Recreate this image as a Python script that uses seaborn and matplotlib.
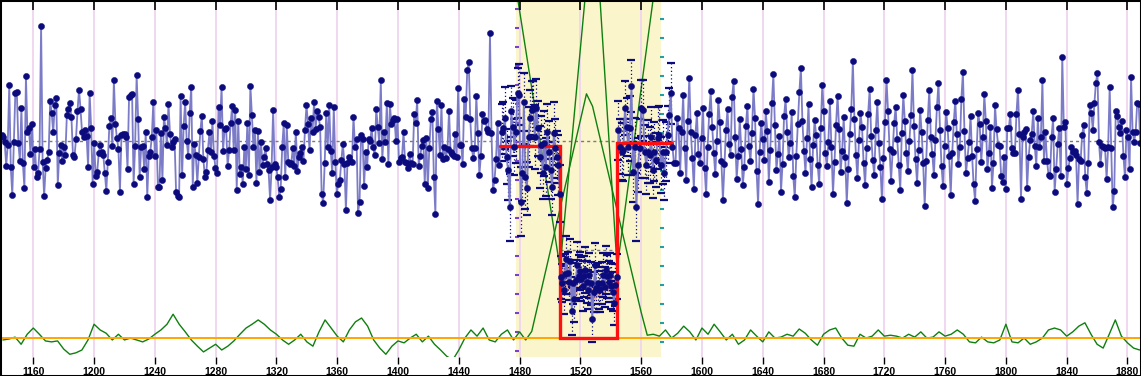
import numpy as np
import pandas as pd
import matplotlib
matplotlib.use("Agg")
import matplotlib.pyplot as plt
import seaborn as sns
from matplotlib.patches import Rectangle

sns.set_theme(style="white")
plt.rcParams['font.family'] = ['Liberation Sans', 'DejaVu Sans']

# ---------------- data ----------------
# out-of-window photometry (relative flux, ppt) before the fitted window
left_vals = [
    1.5, 1.0, -0.1, -5.0, -0.6, 11.9, -5.3, -11.1, -0.1, 10.2,
    10.5, -0.3, -3.9, 7.1, -4.5, -9.7, 13.8, 2.0, 2.9, -2.5,
    3.7, -5.2, -1.5, -7.4, -6.6, -1.5, 24.3, -4.1, -11.3, -5.4,
    -3.8, -2.0, 8.6, 6.0, 2.0, 7.7, 9.2, -9.0, -2.2, -0.7,
    -4.0, -1.0, -2.7, 5.7, 6.9, 8.1, 5.2, -2.7, -3.2, 0.6,
    6.4, 11.0, 6.9, 2.0, 1.1, 2.5, 1.3, -5.2, 10.3, 2.9,
    -8.7, -0.3, -7.1, -6.2, -2.4, -0.6, -2.0, -2.7, -6.4, -10.2,
    -4.1, 3.4, 5.0, -0.8, 13.0, 3.8, 0.8, -1.5, -10.4, 1.5,
    1.7, 1.7, 1.1, -5.7, 9.5, 9.9, 10.1, -8.7, -0.8, 14.0,
    4.8, -7.4, -1.0, -0.8, -5.7, 2.0, -11.5, -2.9, -2.0, 1.0,
    8.4, -2.9, 2.5, -9.4, -9.5, 1.8, -8.0, 5.3, 2.9, -0.6,
    8.0, 1.7, -1.1, -0.1, 0.6, -10.4, -11.3, -11.5, 9.6, -6.9,
    3.4, 8.4, 0.3, -2.9, 6.1,
    11.6, -9.4, -0.4, -2.7, -8.5, -3.1, 2.3, 5.5, -3.6, -7.3,
    -6.2, -1.7, 2.0, -2.0, 4.3, -2.9, -5.4, -6.4, 7.4, 3.6,
    11.5, -1.8, 2.7, 3.0, -5.0, -1.7, 3.9, 7.6, -1.7, 6.7,
    -10.0, 4.5, -6.7, -5.2, -8.7, -1.1, -5.7, 4.0, -7.0, 11.8,
    5.7, -1.0, 2.5, -8.5, 2.3, -6.2, 0.0, -4.8, -3.1, -1.3,
    -4.6, -5.9, -12.2, -5.3, 6.7, -4.6, -5.2, -7.3, -11.5, -9.9,
    -1.0, 3.9, -7.4, 3.5, -4.1, -4.6, -4.3, -1.2, -5.0, 2.2,
    -6.0, -3.2, -2.2, -1.0, -3.9, 2.5, 7.7, 3.8, -1.7, 5.1,
    2.2, 8.4, 2.7, 6.4, 5.2, 3.2, -10.8, -12.7, -4.5, 6.0,
    -1.1, 7.8, -1.8, -6.6, 7.3, -4.1, -10.8, -8.7, -8.0, -3.8,
    -0.4, -4.6, -14.3, -4.5, -3.2, -3.9, -4.1, 5.3, -1.1, 0.7,
    -14.8, -12.5, 1.5, 0.6, -9.2, -2.0, -5.3, 0.6, 0.3, 2.9,
    -1.1, -2.8, 6.9, 3.2, -0.3, 12.9, -3.6, 2.2, 0.1, 8.2,
    -4.6, 7.9, 3.8, 4.6, 5.0, 0.3, 4.8, -4.1, -3.3, -3.1,
    2.0, -4.1, -4.5, -5.5, -2.5, -4.5, -4.6, 5.8, 4.0, 8.8,
    -5.0, -2.9, -0.8, 0.4, -8.7, 0.8, -9.7, -1.2, 4.8, 6.3,
    -7.4, -15.1, 8.7, 2.8, -2.7, 7.8, -3.6, -1.0, -3.3, -1.4,
    6.6, -2.0, -2.5, -2.9, 1.6, -3.1, 11.3, -0.6, -0.6, -4.6,
    9.0, 5.3, 15.1, 16.7, 4.8, -1.3, -3.4, -1.3, 9.7, 1.8,
    -6.9, -2.9, 5.9, 4.3, 4.6, 2.7, 2.2, 22.8, 1.8,
    -10.0, -8.0, -3.6, 4.0, -4.8,
]
left_t = (1139.2, 1466.5)

# fitted window: pre-ingress, in-transit, post-egress (with errors)
pre_vals = [
    2.0, 2.9, 5.0, -3.1, -5.9, -13.7, 6.4, 3.2, -1.0, 2.2,
    10.3, 9.9, -12.5, -6.6, 8.4, -7.3, -9.7, 1.1, 5.0, 6.7,
    7.1, 1.1, 7.1, 2.9, -3.1, -0.6, -6.6, -0.3, -5.2, 2.2,
    -2.0, -5.9, -9.4, 1.8, -1.3, -3.1, -4.8, -10.8,
]
pre_err = [
    6.0, 5.5, 6.5, 5.8, 6.2, 7.0, 5.4, 6.1, 5.9, 6.6,
    5.2, 6.4, 7.2, 5.7, 6.0, 6.8, 5.5, 6.3, 5.9, 6.1,
    5.6, 6.7, 6.2, 5.8, 6.5, 6.0, 5.3, 6.9, 6.1, 5.7,
    6.4, 6.0, 5.8, 6.6, 6.2, 5.5, 6.3, 5.9,
]
pre_t = (1468.3, 1506.6)

in_vals = [
    -28.4, -29.5, -31.0, -27.7, -24.6, -27.5, -29.3, -24.9, -35.4, -29.6,
    -33.0, -28.9, -25.8, -28.1, -27.0, -28.8, -30.2, -28.1, -26.8, -29.4,
    -31.0, -27.9, -29.6, -37.0, -31.4, -25.8, -30.7, -29.6, -31.0, -30.9,
    -29.6, -27.9, -30.4, -26.8, -28.1, -29.3, -27.9, -30.2, -31.4, -33.8,
    -30.0, -28.2,
]
in_err = [
    4.5, 4.0, 5.0, 4.2, 4.8, 4.4, 3.9, 4.6, 5.1, 4.3,
    4.7, 4.1, 4.9, 4.5, 4.0, 4.6, 5.2, 4.3, 4.8, 4.4,
    4.1, 4.7, 4.5, 5.0, 4.2, 4.6, 4.9, 4.3, 4.0, 4.8,
    4.4, 4.6, 4.2, 5.1, 4.5, 4.3, 4.7, 4.9, 4.1, 4.6,
    4.4, 4.8,
]
in_t = (1507.1, 1544.0)

post_vals = [
    2.5, -1.0, -2.0, -1.7, 7.1, 3.2, -1.0, 2.9, 11.7, -6.2,
    -1.0, -13.6, -4.8, -1.3, 7.1, 6.7, -2.0, -4.8, -2.0, -2.7,
    1.1, -5.9, -2.0, -3.8, 0.8, 1.5, -4.8, -2.0, -6.6, -2.0,
    1.5, 5.7, 10.2,
]
post_err = [
    6.2, 5.8, 6.0, 6.5, 5.6, 6.1, 5.9, 6.8, 5.4, 6.3,
    6.0, 7.1, 5.7, 6.2, 5.9, 6.4, 5.5, 6.0, 6.6, 5.8,
    6.3, 5.9, 6.1, 5.6, 6.5, 6.0, 5.8, 6.7, 5.5, 6.2,
    6.0, 5.7, 6.4,
]
post_t = (1545.0, 1579.5)

right_vals = [
    -1.0, -4.5, -4.5, 5.0,
    3.0, -6.5, 2.1, 9.8, -1.2, -8.0, 4.4, 13.5, 2.0, -3.4,
    -9.8, 1.5, 6.0, -2.6, -4.4, 0.8, 7.2, -5.5, -11.0, -1.0,
    5.8, 10.6, 3.1, -2.2, -6.8, 0.2, 8.8, 4.1, -3.9, -12.2,
    -4.7, 2.6, 6.9, -0.5, -2.8, 9.4, 12.8, 1.0, -7.7, -3.0,
    4.9, -1.4, -9.1, -5.2, 3.3, 7.6, -0.9, -4.0, 1.9, 11.2,
    5.1, -6.0, -13.0, -2.1, 4.0, 0.6, -3.7, 6.5, 2.4, -8.3,
    -1.6, 8.1, 14.2, 3.5, -5.8, -2.5, 1.2, -10.4, -4.6, 5.4,
    9.0, 2.2, -3.2, -0.3, 6.2, -7.1, -11.6, -2.9, 3.8, 10.4,
    15.6, 4.3, -1.8, -6.4, 0.9, 7.9, -3.5, -9.5, -0.7, 4.6,
    1.4, -4.9, -8.8, 2.9, 12.0, 6.4, -2.4, -5.0, 0.1, 8.5,
    -1.1, -10.9, -4.2, 3.6, 9.7, 2.8, -6.3, -1.9, 5.2, -3.1,
    -12.8, -5.6, 1.6, 7.0, 17.0, 4.9, -2.7, -7.5, 0.4, 6.0,
    3.2, -4.3, -9.0, -1.3, 5.9, 11.1, 1.3, -3.8, -6.9, 2.5,
    8.3, -0.2, -5.3, -11.9, -3.3, 4.2, 13.1, 6.6, -1.5, -8.1,
    -2.0, 3.9, 7.4, 0.7, -4.8, -10.1, 1.8, 9.9, 4.5, -2.3,
    -6.1, 0.3, 5.6, 15.0, 3.4, -3.6, -8.6, -1.7, 6.8, 2.1,
    -4.4, -13.4, -3.9, 4.7, 10.9, 1.1, -2.6, -7.0, 0.5, 7.3,
    12.4, 2.6, -5.1, -9.3, -0.8, 6.3, 3.0, -3.0, -11.2, -2.4,
    4.1, 8.7, 1.7, -4.6, -1.0, 9.1, 14.6, 2.3, -6.6, -3.4,
    0.0, 5.5, -2.9, -8.9, -12.4, -1.5, 6.1, 3.7, -4.1, 1.0,
    10.0, 4.4, -5.7, -2.2, 3.1, -9.6, -4.5, 7.7, 2.7, -0.6,
    -0.8, -7.1, -8.3, -3.1, -9.9, 2.9, 2.9, 5.9, -1.2, -2.2,
    -2.4, 5.8, 11.0, 1.7, -12.0, 1.1, 2.2, 2.8, -9.6, -3.1,
    0.4, 1.7, 6.4, -0.8, -5.0, 5.0, -1.0, 1.0, 12.9, -3.9,
    2.0, -3.9, -6.9, -7.1, 1.1, 5.0, -10.4, -5.7, -0.5, 2.9,
    -7.1, 17.9, 3.2, 4.1, -8.7, -5.5, -3.4, -1.0, -2.0, -1.8,
    -2.7, -12.9, -3.6, -3.9, 1.5, 3.6, -7.3, -10.6, -4.5, 7.8,
    6.1, 2.5, 8.1, 12.4, 14.5, -0.1, -4.6, -0.8, -1.1, -1.3,
    -7.8, -1.1, 11.5, -1.3, -13.7, -10.2, 6.6, 5.5, 3.2, 1.8,
    4.3, -2.9, -7.4, 2.5, 1.1, -5.7, 13.6, 2.2, 0.1, 2.0,
    8.2, 8.0, -0.3,
]
right_t = (1580.6, 1888.4)

# lower residual-like curve (green), sampled every 4 units from 1140
green_start, green_step = 1140, 4
green_vals = [
    -41.5, -41.3, -40.9, -42.4, -40.3, -39.0, -40.3, -41.7, -41.9, -41.7,
    -43.4, -44.5, -44.2, -43.6, -41.5, -38.2, -39.4, -40.1, -41.5, -40.3,
    -41.5, -41.1, -41.5, -41.9, -41.3, -40.3, -39.4, -38.2, -36.1, -38.2,
    -39.8, -41.5, -42.8, -44.0, -43.2, -42.4, -43.6, -42.8, -41.7, -40.3,
    -39.0, -38.2, -37.3, -38.2, -39.4, -40.3, -41.5, -42.4, -41.5, -40.3,
    -41.9, -42.8, -39.8, -37.3, -39.0, -40.7, -41.9, -39.4, -37.7, -36.9,
    -38.6, -41.5, -43.2, -44.5, -42.8, -41.7, -42.1, -41.1, -40.3, -41.9,
    -40.7, -42.4, -43.6, -44.9, -45.7, -43.6, -41.1, -39.4, -40.7, -39.0,
    -41.5, -41.9, -40.3, -39.4, -41.5, -39.8, -41.5,
    -39.7, -34.2, -28.6, -23.1, -17.6, -12.0, -6.5, -1.0, 4.6, 10.1,
    7.5, 2.1, -3.3, -8.7, -14.1, -19.5, -24.9, -30.3, -35.7, -40.5,
    -40.3, -40.7, -39.4, -41.1, -40.1, -38.6, -39.8, -41.5, -39.0, -40.3,
    -38.2, -39.8, -41.5, -40.3, -42.4, -41.5, -39.4, -40.7, -41.9, -39.8,
    -41.1, -40.9, -40.3, -40.7, -39.2, -40.1, -41.5, -42.6, -40.3, -39.4,
    -39.0, -41.1, -42.6, -42.8, -40.3, -41.1, -40.7, -39.4, -40.7, -40.5,
    -40.7, -41.1, -40.3, -40.9, -39.8, -41.1, -40.9, -39.8, -40.7, -40.3,
    -39.4, -40.3, -41.9, -42.1, -40.9, -41.9, -42.1, -41.5, -38.2, -41.9,
    -42.1, -41.1, -42.4, -41.9, -41.1, -39.4, -39.0, -39.4, -40.7, -39.8,
    -38.6, -37.9, -40.3, -42.4, -43.2, -40.3, -37.3, -40.7, -42.1, -43.2,
    -43.6,
]
green_base = -41.1

# upper V-shaped curve
vcurve_t = [1476.3, 1506.6, 1524.5, 1528.2, 1531.9, 1544.2, 1570.0]
vcurve_v = [35.0, -26.4, 35.0, 60.0, 35.0, -26.4, 35.0]

# box model
model_t = [1467.2, 1506.7, 1506.7, 1544.2, 1544.2, 1580.4]
model_v = [-0.75, -0.75, -41.1, -41.1, -0.15, -0.15]

# binned in-transit boxes
bin_t = [1510.0, 1516.0, 1522.0, 1528.0, 1534.0, 1540.0]
bin_lo = [-31.0, -32.1, -30.6, -33.1, -32.7, -31.4]
bin_hi = [-26.4, -28.9, -27.3, -29.6, -29.6, -28.5]

baseline = 0.2
depth_level = -22.7
window = (1477.4, 1573.1)
xticks = list(range(1160, 1881, 40))

# ---------------- build frames ----------------
def seg(vals, span, err=None):
    d = pd.DataFrame({"t": np.linspace(span[0], span[1], len(vals)), "v": vals})
    d["err"] = err if err is not None else np.nan
    return d

df = pd.concat([
    seg(left_vals, left_t),
    seg(pre_vals, pre_t, pre_err),
    seg(in_vals, in_t, in_err),
    seg(post_vals, post_t, post_err),
    seg(right_vals, right_t),
], ignore_index=True)
df_err = df.dropna(subset=["err"])
green = pd.DataFrame({"t": green_start + green_step * np.arange(len(green_vals)),
                      "v": green_vals})

# ---------------- figure ----------------
fig = plt.figure(figsize=(11.41, 3.76), dpi=100)
fig.patch.set_facecolor("white")
ax = fig.add_axes([0, 19 / 376, 1, 357 / 376])
ax.set_facecolor("white")
ax.set_xlim(1138.1, 1888.9)
ax.set_ylim(-45.07, 29.77)

navy = "#0b0b7e"
ax.axvspan(window[0], window[1], color="#fbf5cb", zorder=0, lw=0)
for xt in xticks:
    ax.axvline(xt, color="#efd5ef", lw=1.3, zorder=0.5)

# small axis marks on the window edges
ptick = np.arange(27.8, -46, -3.98)
tticks = np.arange(25.8, -46, -3.98)
ax.scatter([window[0] + 0.6] * len(ptick), ptick, marker="_", s=6,
           linewidths=1.5, color="#7a3fd2", zorder=1)
ax.scatter([window[1] + 0.6] * len(tticks), tticks, marker="_", s=6,
           linewidths=1.5, color="#22a0a0", zorder=1)

ax.axhline(baseline, color="#7a7a7a", lw=1, ls=(0, (2.2, 2.2)), zorder=1.5)
ax.plot([model_t[1], model_t[3], model_t[3]], [depth_level, depth_level, baseline],
        color="#7a7a7a", lw=1, ls=(0, (2.2, 2.2)), zorder=1.5)

sns.lineplot(data=green, x="t", y="v", color="#0f800f", lw=1.0, sort=False,
             estimator=None, ax=ax, zorder=2)
ax.plot(vcurve_t, vcurve_v, color="#0f800f", lw=1.0, zorder=2)
ax.axhline(green_base, color="#ffa500", lw=1.4, zorder=2.2)

ax.bar(bin_t, np.array(bin_hi) - np.array(bin_lo), bottom=bin_lo, width=5.5,
       color="#e9a48c", alpha=0.8, zorder=2.4, lw=0)

eb = ax.errorbar(df_err["t"], df_err["v"], yerr=df_err["err"], fmt="none",
                 ecolor=navy, elinewidth=0.9, capsize=2.6, capthick=1.6, zorder=2.6)
eb[2][0].set_linestyle((0, (1, 2)))

sns.lineplot(data=df, x="t", y="v", color="#7b7bc8", lw=1.3, sort=False,
             estimator=None, ax=ax, zorder=3)
ax.plot(model_t, model_v, color="#ff1010", lw=2.4, zorder=3.5,
        solid_joinstyle="miter")
sns.scatterplot(data=df, x="t", y="v", color=navy, s=20, edgecolor=navy,
                linewidth=0.3, marker="o", ax=ax, zorder=4)

# axes decorations
ax.set_xlabel("")
ax.set_ylabel("")
ax.set_yticks([])
ax.set_xticks(xticks)
ax.set_xticklabels([str(x) for x in xticks], fontweight="bold")
ax.tick_params(axis="x", direction="out", length=5, width=1, color="black",
               pad=2, labelsize=7.5, labelcolor="black", bottom=True)
ax.vlines(xticks, 1 - 10 / 357, 1, transform=ax.get_xaxis_transform(),
          colors="black", lw=1.2, zorder=6, clip_on=False)
for s in ax.spines.values():
    s.set_visible(False)

fig.add_artist(Rectangle((0, 0), 1, 1, transform=fig.transFigure, fill=False,
                         ec="black", lw=2.2))

fig.savefig("out.png", dpi=100)
